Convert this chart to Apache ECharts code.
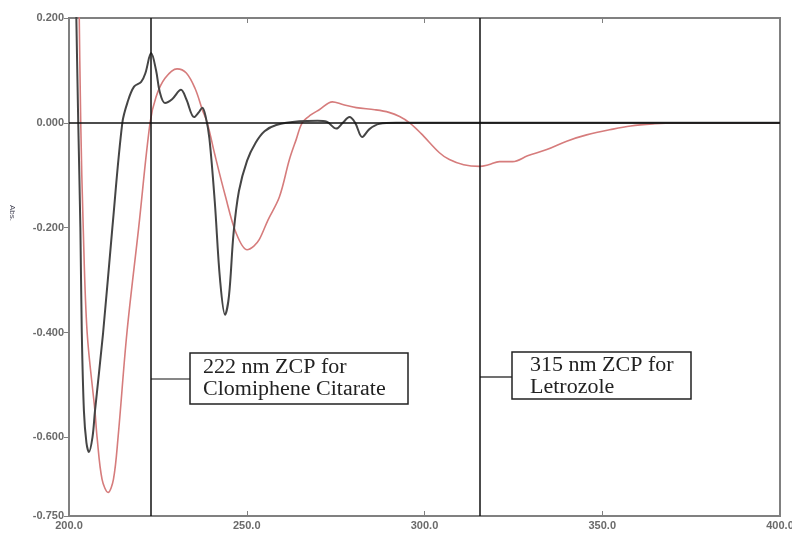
<!DOCTYPE html>
<html>
<head>
<meta charset="utf-8">
<script src="https://cdn.jsdelivr.net/npm/echarts@6/dist/echarts.min.js"></script>
<style>
  html, body { margin: 0; padding: 0; background: #fff; }
  #main { width: 792px; height: 537px; }
</style>
</head>
<body>
<div id="main"></div>
<script>
// wavelength (nm) / first-derivative absorbance
var letrozoleWl = [201.8, 202.6, 203.2, 203.6, 204.2, 204.9, 205.6, 206.6, 207.3, 209.6, 212.2, 215.0,
  216.5, 218.3, 220.3, 221.5, 223.1, 224.5, 225.5, 227.0, 229.0, 231.5, 233.0, 235.2, 236.5, 237.5,
  238.5, 239.5, 241.0, 242.5, 243.9, 245.0, 246.3, 247.8, 250.1, 252.5, 255.0, 258.3, 264.8, 269.9,
  272.5, 275.2, 277.0, 278.9, 280.5, 282.5, 284.5, 287.3, 292.0, 400.0];
var letrozoleAbs = [0.30, 0.00, -0.20, -0.40, -0.55, -0.61, -0.628, -0.60, -0.55, -0.40, -0.20, 0.00,
  0.04, 0.069, 0.078, 0.095, 0.133, 0.10, 0.06, 0.038, 0.045, 0.063, 0.045, 0.011, 0.02, 0.029,
  0.01, -0.03, -0.15, -0.30, -0.366, -0.33, -0.21, -0.13, -0.072, -0.038, -0.016, -0.004, 0.003, 0.004,
  0.002, -0.011, 0.0, 0.011, 0.0, -0.027, -0.012, -0.002, 0.0, 0.0];

var clomipheneWl = [202.7, 203.3, 204.0, 205.1, 207.3, 207.9, 209.3, 211.0, 212.5, 213.8, 216.3, 219.6,
  222.8, 224.5, 227.0, 230.4, 233.0, 235.5, 237.5, 238.9, 241.0, 244.0, 247.0, 250.1, 252.0, 253.5,
  256.0, 259.2, 262.0, 263.9, 265.6, 268.0, 270.4, 274.1, 277.0, 280.8, 286.0, 290.0, 293.0, 295.8,
  299.0, 304.2, 307.0, 311.0, 315.5, 318.0, 321.1, 324.8, 329.0, 334.4, 340.0, 345.6, 353.0, 358.0,
  364.2, 370.0, 400.0];
var clomipheneAbs = [0.30, 0.00, -0.20, -0.40, -0.55, -0.60, -0.68, -0.705, -0.68, -0.60, -0.40, -0.20,
  0.00, 0.05, 0.085, 0.103, 0.095, 0.065, 0.025, 0.0, -0.06, -0.14, -0.21, -0.242, -0.235, -0.223,
  -0.185, -0.141, -0.07, -0.032, 0.0, 0.015, 0.025, 0.040, 0.035, 0.029, 0.025, 0.02, 0.012, 0.0,
  -0.02, -0.057, -0.070, -0.080, -0.083, -0.080, -0.074, -0.074, -0.063, -0.051, -0.035, -0.023, -0.012, -0.006,
  -0.002, 0.0, 0.0];

var yTicks = [-0.75, -0.6, -0.4, -0.2, 0, 0.2];
var zcpLines = [223, 315.5];

function pairs(xs, ys) {
  return xs.map(function (x, i) { return [x, ys[i]]; });
}

var chart = echarts.init(document.getElementById("main"));
var tickFont = { color: "#6a6a6a", fontSize: 11, fontWeight: "bold", fontFamily: "Liberation Sans" };
var serif = "Liberation Serif";
var frame = { color: "#808080", width: 2 };

chart.setOption({
  animation: false,
  grid: {
    left: 69, right: 12, top: 18, bottom: 21,
    containLabel: false, outerBoundsMode: "none",
    show: true, borderColor: "#808080", borderWidth: 2, backgroundColor: "#fff"
  },
  xAxis: [
    {
      type: "value", min: 200, max: 400, interval: 50,
      name: "nm", nameLocation: "middle", nameGap: 17,
      nameTextStyle: { color: "#777", fontSize: 8 },
      axisLine: { show: true, onZero: false, lineStyle: frame },
      axisTick: { show: true, inside: true, length: 5, lineStyle: { color: "#808080" } },
      axisLabel: Object.assign({ margin: 4, formatter: function (v) { return v.toFixed(1); } }, tickFont),
      splitLine: { show: false }
    },
    {
      type: "value", position: "top", min: 200, max: 400, interval: 50,
      axisLine: { show: true, onZero: false, lineStyle: frame },
      axisTick: { show: true, inside: true, length: 5, lineStyle: { color: "#808080" } },
      axisLabel: { show: false },
      splitLine: { show: false }
    }
  ],
  yAxis: {
    type: "value", min: -0.75, max: 0.2,
    axisLine: { show: true, onZero: false, lineStyle: frame },
    axisTick: { show: true, length: 5, customValues: yTicks, lineStyle: { color: "#808080" } },
    axisLabel: Object.assign({ margin: 5, customValues: yTicks, formatter: function (v) { return v.toFixed(3); } }, tickFont),
    splitLine: { show: false }
  },
  series: [
    {
      name: "Clomiphene Citrate", type: "line", smooth: 0.35, symbol: "none",
      lineStyle: { color: "#d67c7c", width: 1.6 },
      data: pairs(clomipheneWl, clomipheneAbs)
    },
    {
      name: "Letrozole", type: "line", smooth: 0.35, symbol: "none",
      lineStyle: { color: "#454545", width: 2 },
      data: pairs(letrozoleWl, letrozoleAbs),
      markLine: {
        silent: true, symbol: "none", label: { show: false },
        lineStyle: { color: "#111", width: 1.5, type: "solid" },
        data: [{ yAxis: 0 }].concat(zcpLines.map(function (x) { return { xAxis: x }; }))
      }
    }
  ],
  graphic: [
    { type: "text", left: 8, top: 205, rotation: -Math.PI / 2,
      style: { text: "Abs.", fill: "#445", font: "8px Liberation Sans" } },
    { type: "line", shape: { x1: 151, y1: 379, x2: 190, y2: 379 }, style: { stroke: "#111", lineWidth: 1.2 } },
    { type: "rect", shape: { x: 190, y: 353, width: 218, height: 51 },
      style: { fill: "#fff", stroke: "#222", lineWidth: 1.5 } },
    { type: "text", x: 203, y: 357, scaleX: 1.1,
      style: { text: "222 nm ZCP for\nClomiphene Citarate", fill: "#222", font: "20px " + serif, lineHeight: 22 } },
    { type: "line", shape: { x1: 480, y1: 377, x2: 512, y2: 377 }, style: { stroke: "#111", lineWidth: 1.2 } },
    { type: "rect", shape: { x: 512, y: 352, width: 179, height: 47 },
      style: { fill: "#fff", stroke: "#222", lineWidth: 1.5 } },
    { type: "text", x: 530, y: 355, scaleX: 1.1,
      style: { text: "315 nm ZCP for\nLetrozole", fill: "#222", font: "20px " + serif, lineHeight: 22 } }
  ]
});
</script>
</body>
</html>
